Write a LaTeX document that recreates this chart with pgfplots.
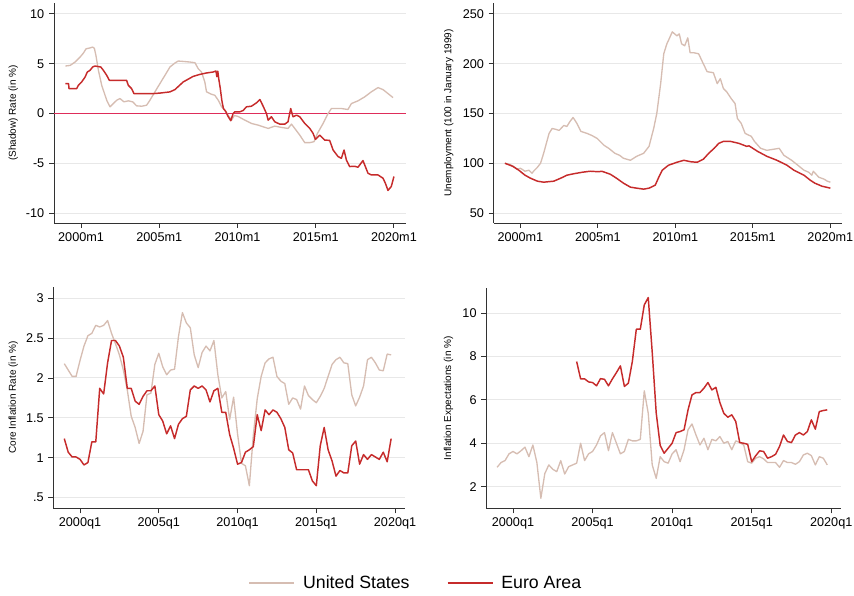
\documentclass[border=0pt]{standalone}
\usepackage{fontspec}
\setmainfont{Liberation Sans}
\usepackage{pgfplots}
\usepackage{pgfplotstable}
\pgfplotsset{compat=1.18}
\definecolor{usc}{RGB}{214,189,178}
\definecolor{euc}{RGB}{198,43,43}
\definecolor{zerored}{RGB}{222,45,90}
\definecolor{gridc}{RGB}{232,232,232}
\definecolor{axc}{RGB}{50,50,50}

% Panel 1: shadow rate (monthly, read at turning points)
\pgfplotstableread{
x v
1999.00 4.77
1999.30 4.83
1999.62 5.17
1999.94 5.67
2000.15 6.07
2000.32 6.50
2000.53 6.57
2000.74 6.67
2000.85 6.55
2000.95 5.83
2001.11 4.33
2001.32 2.83
2001.64 1.33
2001.85 0.67
2002.06 1.00
2002.28 1.33
2002.49 1.50
2002.74 1.17
2003.02 1.27
2003.30 1.17
2003.55 0.77
2003.87 0.73
2004.19 0.83
2004.40 1.33
2004.72 2.17
2005.04 3.00
2005.36 3.83
2005.68 4.67
2006.00 5.07
2006.21 5.27
2006.53 5.23
2006.96 5.17
2007.28 5.10
2007.49 4.50
2007.70 4.17
2007.91 3.17
2008.02 2.17
2008.34 1.93
2008.55 1.83
2008.77 1.33
2008.98 0.67
2009.19 0.33
2009.40 -0.17
2009.62 -0.67
2009.80 -0.20
2010.04 -0.30
2010.47 -0.67
2010.89 -1.00
2011.32 -1.17
2011.96 -1.50
2012.38 -1.27
2012.81 -1.40
2013.23 -1.50
2013.45 -1.07
2013.66 -1.50
2013.98 -2.17
2014.30 -2.93
2014.62 -2.93
2014.89 -2.83
2015.11 -2.00
2015.47 -1.00
2015.79 0.00
2016.00 0.50
2016.64 0.50
2017.06 0.40
2017.28 1.00
2017.70 1.27
2018.13 1.67
2018.55 2.17
2018.98 2.60
2019.30 2.40
2019.62 2.00
2019.94 1.60
}\usrate
\pgfplotstableread{
x v
1999.00 3.00
1999.20 3.00
1999.23 2.50
1999.72 2.50
1999.83 2.83
2000.04 3.17
2000.26 3.67
2000.40 4.17
2000.57 4.33
2000.74 4.67
2000.89 4.77
2001.26 4.67
2001.43 4.33
2001.64 3.83
2001.81 3.33
2002.91 3.33
2003.02 2.83
2003.23 2.50
2003.38 2.00
2004.62 2.00
2005.04 2.05
2005.68 2.17
2006.00 2.40
2006.53 3.17
2007.17 3.73
2007.60 3.93
2008.02 4.07
2008.45 4.17
2008.62 4.27
2008.68 3.70
2008.74 4.25
2008.80 3.50
2008.90 2.50
2009.00 1.30
2009.10 0.50
2009.25 0.20
2009.40 -0.30
2009.57 -0.73
2009.72 0.00
2009.83 0.17
2010.15 0.17
2010.36 0.30
2010.57 0.67
2010.89 0.73
2011.21 1.07
2011.43 1.40
2011.64 0.73
2011.85 0.00
2011.96 -0.67
2012.17 -0.33
2012.38 -0.83
2012.70 -1.07
2013.02 -1.07
2013.23 -0.83
2013.40 0.50
2013.55 -0.33
2013.77 -0.17
2013.98 -0.33
2014.30 -1.00
2014.62 -1.50
2014.83 -2.00
2014.98 -2.60
2015.26 -2.17
2015.57 -2.67
2015.89 -2.70
2016.11 -3.67
2016.43 -4.33
2016.64 -4.50
2016.81 -3.67
2016.96 -4.67
2017.17 -5.33
2017.49 -5.30
2017.70 -5.40
2018.02 -4.73
2018.34 -6.00
2018.55 -6.17
2018.98 -6.17
2019.30 -6.50
2019.45 -7.00
2019.62 -7.73
2019.83 -7.33
2020.00 -6.33
}\eurate

% Panel 2: unemployment index
\pgfplotstableread{
x v
1999.00 100
1999.30 99
1999.55 97
1999.80 94
2000.00 95
2000.30 92
2000.55 93
2000.75 90
2000.85 92
2001.10 96
2001.30 100
2001.50 110
2001.85 130
2002.05 135
2002.30 134
2002.50 133
2002.80 138
2003.00 137
2003.20 142
2003.40 146
2003.65 140
2003.90 132
2004.30 130
2004.60 128
2004.95 125
2005.40 118
2005.70 115
2006.10 110
2006.40 108
2006.65 105
2007.10 103
2007.50 107
2007.95 110
2008.30 117
2008.60 135
2008.80 150
2009.05 180
2009.25 210
2009.45 220
2009.60 225
2009.80 232
2010.10 228
2010.25 230
2010.40 220
2010.60 218
2010.80 226
2010.95 211
2011.20 211
2011.50 210
2011.80 200
2012.05 192
2012.45 191
2012.70 180
2012.90 185
2013.10 175
2013.30 172
2013.60 165
2013.85 160
2014.00 145
2014.25 140
2014.50 130
2014.90 127
2015.10 122
2015.50 115
2015.90 113
2016.30 114
2016.70 115
2017.00 108
2017.50 103
2017.90 98
2018.30 93
2018.60 91
2018.80 88
2018.90 92
2019.25 86
2019.60 84
2019.80 82
2020.00 81
}\usunemp
\pgfplotstableread{
x v
1999.00 100
1999.50 97
1999.90 93
2000.30 88
2000.65 85
2001.10 82
2001.50 81
2002.15 82
2002.60 85
2003.00 88
2003.45 89.5
2004.00 91
2004.50 92
2005.05 91.5
2005.25 92
2005.80 89
2006.20 85
2006.65 80
2007.10 76
2007.50 75
2007.95 74
2008.30 75
2008.70 78
2008.90 85
2009.15 93
2009.55 98
2010.10 101
2010.55 103
2011.00 101.5
2011.40 101
2011.80 104
2012.15 110
2012.50 115
2012.80 120
2013.10 122
2013.55 122
2014.10 120
2014.60 117
2014.75 117.5
2015.30 112
2015.90 107
2016.55 103
2017.20 98
2017.65 93
2018.30 88
2018.70 83
2019.00 80
2019.45 77
2020.00 75
}\euunemp

% Panels 3 and 4: quarterly, i = quarters since 1999q1
\pgfplotstableread{
i us eu
0 2.18 1.24
1 2.10 1.07
2 2.02 1.01
3 2.02 1.01
4 2.22 0.98
5 2.40 0.91
6 2.53 0.94
7 2.56 1.20
8 2.66 1.20
9 2.64 1.87
10 2.66 1.80
11 2.72 2.19
12 2.56 2.47
13 2.43 2.47
14 2.29 2.40
15 2.10 2.26
16 1.85 1.87
17 1.52 1.87
18 1.38 1.71
19 1.18 1.67
20 1.33 1.77
21 1.79 1.84
22 1.81 1.84
23 2.17 1.90
24 2.31 1.54
25 2.14 1.46
26 2.04 1.30
27 2.10 1.40
28 2.11 1.24
29 2.52 1.42
30 2.82 1.49
31 2.69 1.52
32 2.63 1.85
33 2.29 1.90
34 2.13 1.87
35 2.32 1.90
36 2.40 1.85
37 2.34 1.70
38 2.47 1.84
39 2.04 1.87
40 1.75 1.57
41 1.83 1.57
42 1.48 1.29
43 1.76 1.12
44 1.30 0.92
45 0.93 0.94
46 0.90 1.07
47 0.65 1.10
48 1.28 1.14
49 1.74 1.54
50 2.02 1.34
51 2.19 1.60
52 2.24 1.54
53 2.26 1.60
54 2.02 1.57
55 1.96 1.49
56 1.93 1.38
57 1.67 1.10
58 1.75 1.06
59 1.73 0.85
60 1.61 0.85
61 1.90 0.85
62 1.78 0.85
63 1.73 0.71
64 1.69 0.65
65 1.77 1.15
66 1.87 1.38
67 2.02 1.10
68 2.17 0.96
69 2.23 0.77
70 2.26 0.84
71 2.19 0.81
72 2.18 0.81
73 1.79 1.15
74 1.65 1.21
75 1.76 0.92
76 1.90 1.04
77 2.23 0.98
78 2.26 1.04
79 2.19 1.01
80 2.10 0.98
81 2.09 1.07
82 2.30 0.95
83 2.29 1.24
}\coreinf
\pgfplotstableread{
i us eu
0 2.89 nan
1 3.11 nan
2 3.20 nan
3 3.51 nan
4 3.62 nan
5 3.51 nan
6 3.65 nan
7 3.82 nan
8 3.38 nan
9 3.92 nan
10 3.11 nan
11 1.46 nan
12 2.60 nan
13 3.00 nan
14 2.80 nan
15 2.69 nan
16 3.20 nan
17 2.58 nan
18 2.92 nan
19 3.00 nan
20 3.08 7.77
21 4.00 6.97
22 3.20 6.97
23 3.51 6.83
24 3.62 6.80
25 3.92 6.65
26 4.34 6.98
27 4.49 6.95
28 3.66 6.65
29 4.49 6.97
30 4.00 7.26
31 3.51 7.57
32 3.62 6.62
33 4.18 6.77
34 4.11 7.77
35 4.11 9.26
36 4.18 9.26
37 6.42 10.38
38 5.38 10.72
39 3.00 8.20
40 2.38 5.40
41 3.38 3.90
42 3.15 3.54
43 3.08 3.77
44 3.51 4.00
45 3.70 4.49
46 3.15 4.54
47 3.70 4.62
48 4.62 5.54
49 4.89 6.23
50 4.38 6.34
51 3.92 6.34
52 4.23 6.54
53 3.70 6.80
54 4.18 6.46
55 4.11 6.58
56 4.31 5.88
57 4.00 5.38
58 4.08 5.20
59 3.70 5.31
60 4.11 5.00
61 4.03 4.03
62 3.92 4.00
63 3.15 3.95
64 3.08 3.15
65 3.31 3.42
66 3.38 3.65
67 3.28 3.62
68 3.11 3.31
69 3.11 3.38
70 3.11 3.49
71 2.89 3.85
72 3.20 4.38
73 3.11 4.08
74 3.11 4.03
75 3.03 4.38
76 3.15 4.49
77 3.46 4.38
78 3.54 4.54
79 3.43 5.08
80 3.00 4.65
81 3.38 5.46
82 3.31 5.51
83 3.00 5.54
}\infexp

\pgfplotsset{
 panel/.style={
  scale only axis, anchor=south west,
  axis x line*=bottom, axis y line*=left,
  axis line style={-, draw=axc, line width=0.7pt},
  tick align=outside, major tick length=3.75pt,
  tick style={draw=axc, line width=0.7pt},
  minor tick num=0,
  ymajorgrids, grid style={gridc, line width=0.75pt},
  ticklabel style={font=\fontsize{9.5}{11}\selectfont, text=black},
  ylabel style={font=\fontsize{7.5}{9}\selectfont, at={(axis description cs:#1,0.5)}, anchor=center, text=black},
  /pgf/number format/assume math mode=true,
  xtick={2000,2005,2010,2015,2020},
  unbounded coords=jump,
 },
 usl/.style={color=usc, line width=1.0pt, line join=round},
 eul/.style={color=euc, line width=1.1pt, line join=round},
}

\begin{document}
\begin{tikzpicture}
\path[use as bounding box] (0,0) rectangle (640.5pt,447pt);

% Panel 1
\begin{axis}[panel=-0.116,
  at={(40.5pt,279.75pt)}, width=264pt, height=165pt,
  xmin=1998.27, xmax=2020.77, ymin=-11.0, ymax=11.1,
  xticklabels={2000m1,2005m1,2010m1,2015m1,2020m1},
  ytick={-10,-5,5,10}, yticklabels={-10,-5,5,10},
  extra y ticks={0}, extra y tick labels={0},
  extra y tick style={grid=major, major grid style={draw=zerored, line width=1.3pt}},
  ylabel={(Shadow) Rate (in \%)}]
\addplot[usl] table[x=x,y=v] {\usrate};
\addplot[eul] table[x=x,y=v] {\eurate};
\end{axis}

% Panel 2
\begin{axis}[panel=-0.129,
  at={(370.3pt,279.75pt)}, width=261.2pt, height=165pt,
  xmin=1998.28, xmax=2020.75, ymin=40, ymax=261,
  xticklabels={2000m1,2005m1,2010m1,2015m1,2020m1},
  ytick={50,100,150,200,250}, yticklabels={50,100,150,200,250},
  ylabel={Unemployment (100 in January 1999)}]
\addplot[usl] table[x=x,y=v] {\usunemp};
\addplot[eul] table[x=x,y=v] {\euunemp};
\end{axis}

% Panel 3
\begin{axis}[panel=-0.114,
  at={(40pt,65.8pt)}, width=263.8pt, height=166.2pt,
  xmin=1998.305, xmax=2020.635, ymin=0.367, ymax=3.145,
  xticklabels={2000q1,2005q1,2010q1,2015q1,2020q1},
  ytick={0.5,1,1.5,2,2.5,3}, yticklabels={.5,1,1.5,2,2.5,3},
  ylabel={Core Inflation Rate (in \%)}]
\addplot[usl] table[x expr=1999+\thisrow{i}/4, y=us] {\coreinf};
\addplot[eul] table[x expr=1999+\thisrow{i}/4, y=eu] {\coreinf};
\end{axis}

% Panel 4
\begin{axis}[panel=-0.106,
  at={(364.7pt,65.8pt)}, width=266.25pt, height=165pt,
  xmin=1998.32, xmax=2020.63, ymin=1.0, ymax=11.15,
  xticklabels={2000q1,2005q1,2010q1,2015q1,2020q1},
  ytick={2,4,6,8,10}, yticklabels={2,4,6,8,10},
  ylabel={Inflation Expectations (in \%)}]
\addplot[usl] table[x expr=1999+\thisrow{i}/4, y=us] {\infexp};
\addplot[eul] table[x expr=1999+\thisrow{i}/4, y=eu] {\infexp};
\end{axis}

% Legend
\begin{axis}[hide axis, scale only axis, anchor=south west, at={(0pt,0pt)},
  width=640.5pt, height=447pt, xmin=0, xmax=1, ymin=0, ymax=1,
  legend columns=2,
  legend image code/.code={\draw[#1] (0pt,0pt) -- (33.75pt,0pt);},
  legend style={at={(0.4875,0.0218)}, anchor=center, draw=none, fill=none,
    font=\fontsize{13.3}{15}\selectfont, text=black,
    /tikz/every odd column/.append style={column sep=4pt},
    /tikz/every even column/.append style={column sep=26pt}}]
\addlegendimage{usl}
\addlegendentry{United States}
\addlegendimage{eul}
\addlegendentry{Euro Area}
\end{axis}
\end{tikzpicture}
\end{document}
